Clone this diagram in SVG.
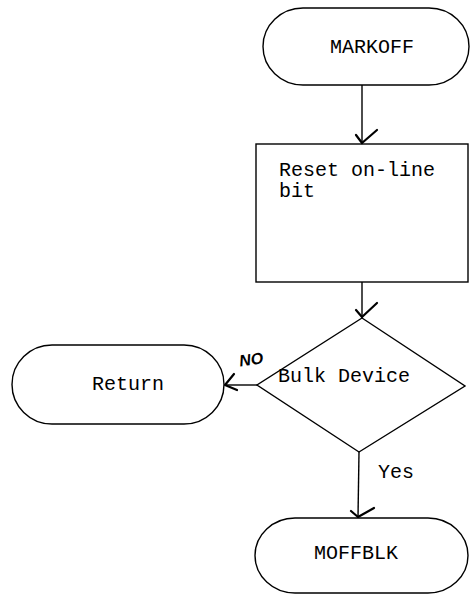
<svg xmlns="http://www.w3.org/2000/svg" width="471" height="595" viewBox="0 0 471 595">
<style>
.s{fill:none;stroke:#000;stroke-width:1.4}
.t{font-family:"Liberation Mono","Courier New",monospace;font-size:20px;fill:#000}
.h{fill:none;stroke:#000;stroke-width:2.2;stroke-linecap:round;stroke-linejoin:round}
.no{font-family:"Liberation Sans",Arial,sans-serif;font-size:16px;font-style:italic;font-weight:bold;fill:#000}
</style>
<rect width="471" height="595" fill="#fff"/>
<g id="markoff">
<rect class="s" x="263" y="8" width="206" height="77" rx="40" ry="38.5"/>
<text class="t" x="330" y="53">MARKOFF</text>
</g>
<g id="reset">
<rect class="s" x="256" y="144" width="212" height="138"/>
<text class="t" x="279" y="176">Reset on-line</text>
<text class="t" x="279" y="197">bit</text>
</g>
<g id="bulk">
<polygon class="s" points="362,318 465,386 359,452 257,385"/>
<text class="t" x="278" y="382">Bulk Device</text>
</g>
<g id="return">
<rect class="s" x="12" y="345" width="212" height="79" rx="40" ry="39.5"/>
<text class="t" x="92" y="390">Return</text>
</g>
<g id="moffblk">
<rect class="s" x="255" y="518" width="213" height="75" rx="40" ry="37.5"/>
<text class="t" x="314" y="559">MOFFBLK</text>
</g>
<g id="connectors">
<line class="s" x1="362" y1="85" x2="362" y2="144"/>
<path class="h" d="M356,135 L362,143 L377,130"/>
<line class="s" x1="362" y1="282" x2="362" y2="318"/>
<path class="h" d="M356,310 L362,317 L377,303"/>
<line class="s" x1="257" y1="385" x2="225" y2="385"/>
<path class="h" d="M234,374 L225,385 L237,390"/>
<text class="no" x="239" y="365" transform="rotate(-8 251 358)">NO</text>
<line class="s" x1="359" y1="452" x2="358" y2="518"/>
<path class="h" d="M351,511 L358,517 L374,508"/>
<text class="t" x="378" y="478">Yes</text>
</g>
</svg>
